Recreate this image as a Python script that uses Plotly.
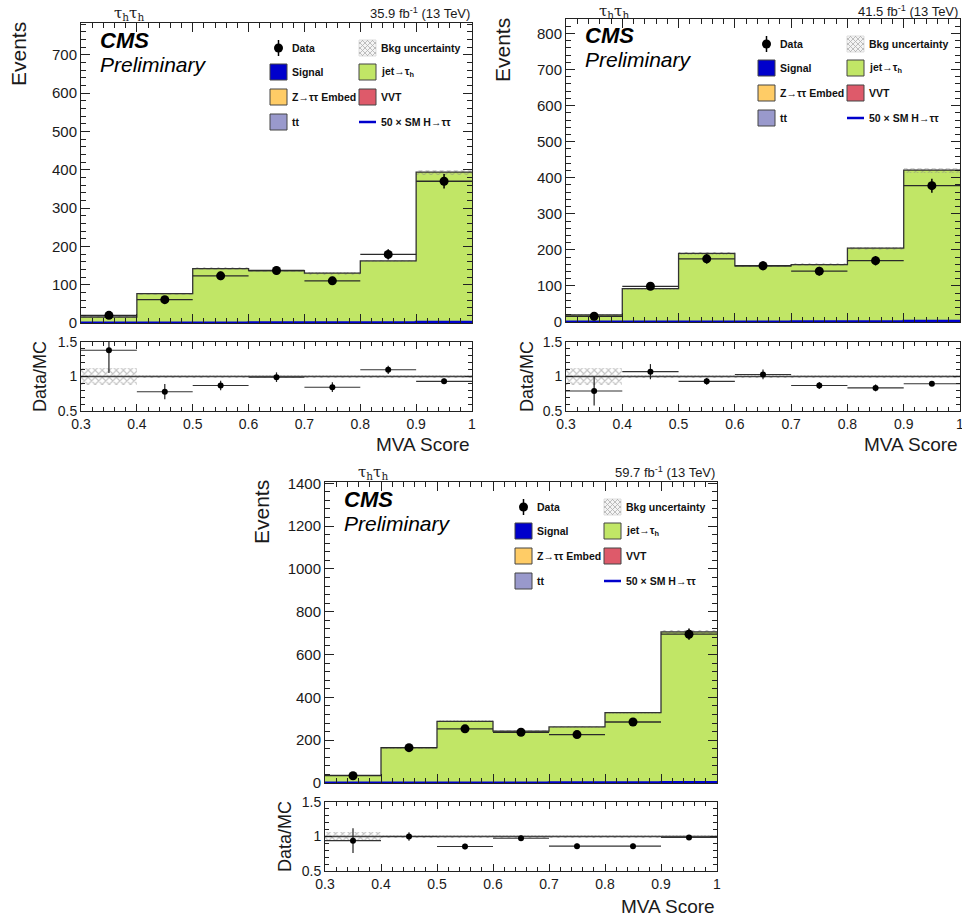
import plotly.graph_objects as go

# ---------------- data ----------------
edges = [0.3, 0.4, 0.5, 0.6, 0.7, 0.8, 0.9, 1.0]
lumi_2016, lumi_2017, lumi_2018 = "35.9", "41.5", "59.7"

bkg_2016 = [15.6, 76.5, 142, 136.5, 130, 162, 394]
bkg_unc_2016 = [2.5, 2.5, 3, 3, 3.5, 3.5, 6.5]
data_2016 = [20, 61, 123, 137, 110, 179, 370]
data_err_2016 = [4.5, 7.8, 11.1, 11.7, 10.5, 13.4, 19.2]
sig_2016 = [0.4, 0.5, 0.7, 0.9, 1.1, 1.5, 2.5]
ratio_2016 = [1.38, 0.78, 0.87, 0.99, 0.845, 1.097, 0.93]
ratio_err_2016 = [0.33, 0.11, 0.07, 0.07, 0.07, 0.06, 0.04]
band_2016 = [0.12, 0.02, 0.02, 0.02, 0.02, 0.02, 0.02]

bkg_2017 = [20, 92.5, 190, 156, 159, 205, 421]
bkg_unc_2017 = [2.5, 3, 3.5, 3, 3.5, 4, 7]
data_2017 = [16, 99, 175, 156, 141, 170, 378]
data_err_2017 = [4, 10, 13.2, 12.5, 11.9, 13, 19.4]
sig_2017 = [0.4, 0.5, 0.7, 0.9, 1.1, 1.5, 2.5]
ratio_2017 = [0.79, 1.07, 0.93, 1.03, 0.87, 0.835, 0.895]
ratio_err_2017 = [0.21, 0.11, 0.05, 0.07, 0.05, 0.05, 0.03]
band_2017 = [0.12, 0.02, 0.02, 0.02, 0.02, 0.02, 0.02]

bkg_2018 = [36, 165, 288, 242, 262, 329, 706]
bkg_unc_2018 = [3, 4, 5, 4, 5, 5, 8]
data_2018 = [34, 165, 253, 237, 226, 285, 695]
data_err_2018 = [5.8, 12.8, 15.9, 15.4, 15, 16.9, 26.4]
sig_2018 = [0.6, 0.8, 1.0, 1.3, 1.6, 2.2, 3.5]
ratio_2018 = [0.94, 1.0, 0.855, 0.975, 0.86, 0.86, 0.985]
ratio_err_2018 = [0.18, 0.06, 0.04, 0.04, 0.04, 0.04, 0.03]
band_2018 = [0.06, 0.02, 0.02, 0.02, 0.02, 0.02, 0.02]

legend_labels = ["Data", "Bkg uncertainty", "Signal", "jet\u2192\u03c4<sub>h</sub>",
                 "Z\u2192\u03c4\u03c4 Embed", "VVT", "tt", "50 \u00d7 SM H\u2192\u03c4\u03c4"]

# ---------------- style ----------------
W, H = 962, 918
C_JET = "#c1e666"
C_SIG = "#0000cc"
C_ZTT = "#ffcc66"
C_VVT = "#de5a6a"
C_TT = "#9999cc"
C_FRAME = "#222222"
FONT = "Liberation Sans"


def px(x):
    return x / W


def py(y):
    return 1 - y / H


centers = [(edges[k] + edges[k + 1]) / 2 for k in range(len(edges) - 1)]
halfw = [(edges[k + 1] - edges[k]) / 2 for k in range(len(edges) - 1)]
widths = [edges[k + 1] - edges[k] for k in range(len(edges) - 1)]

panels = [
    dict(x0=81, x1=472, t0=23, t1=323, r0=342, r1=411, ymax=783, dt=100, mdt=20,
         lumi=lumi_2016, bkg=bkg_2016, unc=bkg_unc_2016, data=data_2016, derr=data_err_2016,
         sig=sig_2016, ratio=ratio_2016, rerr=ratio_err_2016, band=band_2016,
         ev_x=18, ev_y=54, dm_x=40, dm_y=377, mva_y=444),
    dict(x0=566, x1=960, t0=19, t1=322, r0=342, r1=411, ymax=840, dt=100, mdt=20,
         lumi=lumi_2017, bkg=bkg_2017, unc=bkg_unc_2017, data=data_2017, derr=data_err_2017,
         sig=sig_2017, ratio=ratio_2017, rerr=ratio_err_2017, band=band_2017,
         ev_x=503, ev_y=50, dm_x=527, dm_y=377, mva_y=444),
    dict(x0=325, x1=717, t0=482, t1=783, r0=802, r1=871, ymax=1406, dt=200, mdt=40,
         lumi=lumi_2018, bkg=bkg_2018, unc=bkg_unc_2018, data=data_2018, derr=data_err_2018,
         sig=sig_2018, ratio=ratio_2018, rerr=ratio_err_2018, band=band_2018,
         ev_x=261, ev_y=512, dm_x=285, dm_y=837, mva_y=906),
]

fig = go.Figure()
layout = dict(width=W, height=H, margin=dict(l=0, r=0, t=0, b=0, pad=0, autoexpand=False), autosize=False,
              paper_bgcolor="white", plot_bgcolor="white", showlegend=False,
              barmode="overlay", bargap=0)
annotations = []
shapes = []


def axname(n, kind):
    return f"{kind}axis" + ("" if n == 1 else str(n))


def ref(n, kind):
    return kind + ("" if n == 1 else str(n))


HATCH = dict(shape="x", fgcolor="#888888", size=5, solidity=0.4, fillmode="overlay")

for i, p in enumerate(panels):
    ta, ra = 2 * i + 1, 2 * i + 2
    xt, yt, xr, yr = ref(ta, "x"), ref(ta, "y"), ref(ra, "x"), ref(ra, "y")
    ext = list(edges)

    # ---- top panel ----
    fig.add_trace(go.Bar(x=centers, y=p["bkg"], width=widths, marker=dict(color=C_JET, line=dict(width=0)),
                         xaxis=xt, yaxis=yt, hoverinfo="skip"))
    fig.add_trace(go.Bar(x=centers, y=[2 * u for u in p["unc"]],
                         base=[b - u for b, u in zip(p["bkg"], p["unc"])], width=widths,
                         marker=dict(color="rgba(0,0,0,0)", line=dict(width=0), pattern=HATCH),
                         xaxis=xt, yaxis=yt, hoverinfo="skip"))
    fig.add_trace(go.Scatter(x=ext, y=list(p["bkg"]) + [p["bkg"][-1]], mode="lines",
                             line=dict(shape="hv", color="#333333", width=1.3), xaxis=xt, yaxis=yt))
    fig.add_trace(go.Scatter(x=ext, y=list(p["sig"]) + [p["sig"][-1]], mode="lines",
                             line=dict(shape="hv", color=C_SIG, width=2.6), xaxis=xt, yaxis=yt))
    fig.add_trace(go.Scatter(x=centers, y=p["data"], mode="markers",
                             marker=dict(symbol="circle", size=9, color="black"),
                             error_y=dict(type="data", array=p["derr"], thickness=1.5, width=0, color="black"),
                             error_x=dict(type="data", array=halfw, thickness=1.3, width=0, color="#2a2a2a"),
                             xaxis=xt, yaxis=yt))

    # ---- ratio panel ----
    fig.add_trace(go.Bar(x=centers, y=[2 * b for b in p["band"]], base=[1 - b for b in p["band"]],
                         width=widths,
                         marker=dict(color="rgba(0,0,0,0)", line=dict(width=0), pattern=HATCH),
                         xaxis=xr, yaxis=yr, hoverinfo="skip"))
    ones = [1.0] * len(ext)
    fig.add_trace(go.Scatter(x=ext, y=ones, mode="lines", line=dict(color="#444444", width=1.3),
                             xaxis=xr, yaxis=yr))
    fig.add_trace(go.Scatter(x=centers, y=p["ratio"], mode="markers",
                             marker=dict(symbol="circle", size=6, color="black"),
                             error_y=dict(type="data", array=p["rerr"], thickness=1.2, width=0, color="#222"),
                             error_x=dict(type="data", array=halfw, thickness=1.1, width=0, color="#333"),
                             xaxis=xr, yaxis=yr))

    common = dict(showline=True, linecolor=C_FRAME, linewidth=1, mirror="allticks", ticks="inside",
                  tickcolor=C_FRAME, showgrid=False, zeroline=False, fixedrange=True, automargin=False,
                  ticklabeloverflow="allow")
    layout[axname(ta, "x")] = dict(common, domain=[px(p["x0"]), px(p["x1"])], range=[0.3, 1.0],
                                   anchor=yt, tick0=0.3, dtick=0.1, ticklen=9, showticklabels=False,
                                   minor=dict(ticks="inside", dtick=0.02, ticklen=5, tickcolor=C_FRAME))
    layout[axname(ta, "y")] = dict(common, domain=[py(p["t1"]), py(p["t0"])], range=[0, p["ymax"]],
                                   anchor=xt, tick0=0, dtick=p["dt"], ticklen=9,
                                   tickfont=dict(family=FONT, size=15, color="#1a1a1a"),
                                   minor=dict(ticks="inside", dtick=p["mdt"], ticklen=5, tickcolor=C_FRAME))
    layout[axname(ra, "x")] = dict(common, domain=[px(p["x0"]), px(p["x1"])], range=[0.3, 1.0],
                                   anchor=yr, tick0=0.3, dtick=0.1, ticklen=7,
                                   tickfont=dict(family=FONT, size=14, color="#1a1a1a"),
                                   minor=dict(ticks="inside", dtick=0.02, ticklen=4, tickcolor=C_FRAME))
    layout[axname(ra, "y")] = dict(common, domain=[py(p["r1"]), py(p["r0"])], range=[0.5, 1.5],
                                   anchor=xr, tickvals=[0.5, 1, 1.5], ticktext=["0.5", "1", "1.5"], ticklen=7,
                                   tickfont=dict(family=FONT, size=14, color="#1a1a1a"),
                                   minor=dict(ticks="inside", dtick=0.1, ticklen=4, tickcolor=C_FRAME))

    # ---- texts ----
    def ann(text, x, y, size, xanchor="center", yanchor="middle", angle=0, bold=False, italic=False,
            family=FONT, color="#1a1a1a"):
        t = text
        if bold:
            t = "<b>" + t + "</b>"
        if italic:
            t = "<i>" + t + "</i>"
        annotations.append(dict(text=t, x=px(x), y=py(y), xref="paper", yref="paper", showarrow=False,
                                xanchor=xanchor, yanchor=yanchor, textangle=angle,
                                font=dict(family=family, size=size, color=color)))

    ann("Events", p["ev_x"], p["ev_y"], 21, angle=-90)
    ann("Data/MC", p["dm_x"], p["dm_y"], 18, angle=-90)
    ann("MVA Score", p["x1"], p["mva_y"], 19, xanchor="right")
    ann("\u03c4<sub>h</sub>\u03c4<sub>h</sub>", p["x0"] + 48, max(p["t0"] - 10, 12), 15, family="DejaVu Serif")
    ann(p["lumi"] + " fb<sup>-1</sup> (13 TeV)", p["x1"], max(p["t0"] - 10, 11), 13, xanchor="right")
    ann("CMS", p["x0"] + 17, p["t0"] + 17, 22, xanchor="left", bold=True, italic=True, color="black")
    ann("Preliminary", p["x0"] + 17, p["t0"] + 41, 21, xanchor="left", italic=True, color="black")

    # ---- legend ----
    c1 = p["x1"] - 202
    c2 = p["x1"] - 113
    rows = [p["t0"] + 25, p["t0"] + 49, p["t0"] + 74, p["t0"] + 99]
    bw, bh = 17, 16

    def box(xl, yc, color):
        shapes.append(dict(type="rect", xref="paper", yref="paper", x0=px(xl), x1=px(xl + bw),
                           y0=py(yc + bh / 2), y1=py(yc - bh / 2), fillcolor=color,
                           line=dict(color="#444444", width=1)))

    # Data
    dxc = c1 + bw / 2
    shapes.append(dict(type="line", xref="paper", yref="paper", x0=px(dxc), x1=px(dxc),
                       y0=py(rows[0] - 8), y1=py(rows[0] + 8), line=dict(color="black", width=1.5)))
    shapes.append(dict(type="circle", xref="paper", yref="paper", x0=px(dxc - 4.5), x1=px(dxc + 4.5),
                       y0=py(rows[0] + 4.5), y1=py(rows[0] - 4.5), fillcolor="black",
                       line=dict(color="black", width=0)))
    # Bkg uncertainty hatch box
    hx0, hy0 = c2, rows[0] - bh / 2
    shapes.append(dict(type="rect", xref="paper", yref="paper", x0=px(hx0), x1=px(hx0 + bw),
                       y0=py(hy0 + bh), y1=py(hy0), fillcolor="#f4f4f4", line=dict(color="#dddddd", width=1)))
    for c in range(-bh + 4, bw, 5):
        xa, xb = max(0, c), min(bw, bh + c)
        if xb > xa:
            shapes.append(dict(type="line", xref="paper", yref="paper", x0=px(hx0 + xa), x1=px(hx0 + xb),
                               y0=py(hy0 + xa - c), y1=py(hy0 + xb - c),
                               line=dict(color="#b0b0b0", width=0.8)))
            shapes.append(dict(type="line", xref="paper", yref="paper", x0=px(hx0 + bw - xa),
                               x1=px(hx0 + bw - xb), y0=py(hy0 + xa - c), y1=py(hy0 + xb - c),
                               line=dict(color="#b0b0b0", width=0.8)))
    box(c1, rows[1], C_SIG)
    box(c2, rows[1], C_JET)
    box(c1, rows[2], C_ZTT)
    box(c2, rows[2], C_VVT)
    box(c1, rows[3], C_TT)
    shapes.append(dict(type="line", xref="paper", yref="paper", x0=px(c2), x1=px(c2 + bw),
                       y0=py(rows[3]), y1=py(rows[3]), line=dict(color=C_SIG, width=2.5)))

    lab_pos = [(c1, 0), (c2, 0), (c1, 1), (c2, 1), (c1, 2), (c2, 2), (c1, 3), (c2, 3)]
    for lab, (cx, r) in zip(legend_labels, lab_pos):
        ann(lab, cx + bw + 3, rows[r], 10.5, xanchor="left", bold=True, color="#111111")

layout["annotations"] = annotations
layout["shapes"] = shapes
fig.update_layout(**layout)
fig.write_html("out.html", config={"displayModeBar": False},
               post_script="document.body.style.margin='0px';document.body.style.overflow='hidden';")
